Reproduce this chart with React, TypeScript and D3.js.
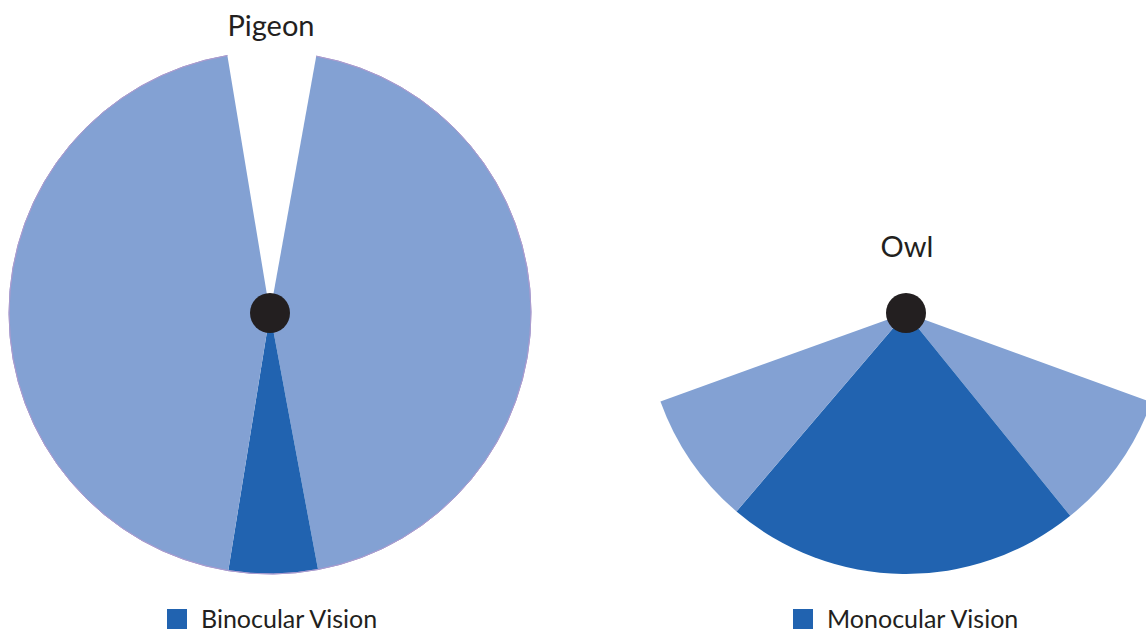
import React, { useEffect, useRef } from 'react';
import * as d3 from 'd3';

// angular extents, in degrees, clockwise from "up"
const pigeonParts = ['Blind', 'Monocular', 'Binocular', 'Monocular'];
const pigeonDegrees = [19.6, 159.2, 19.8, 161.4];
const owlParts = ['Monocular', 'Binocular', 'Monocular'];
const owlDegrees = [31, 79.5, 29.7];
const birds = ['Pigeon', 'Owl'];
const legendLabels = ['Binocular Vision', 'Monocular Vision'];

const W = 1146;
const H = 633;
const R = 261;
const LIGHT = '#83a1d3';
const DARK = '#2163b0';
const DOT = '#231f20';
const FONT = 'Lato, "Open Sans", sans-serif';

const rad = (deg: number) => (deg * Math.PI) / 180;

const colorFor = (part: string) =>
  part === 'Binocular' ? DARK : part === 'Monocular' ? LIGHT : 'none';

const drawBird = (
  g: d3.Selection<SVGGElement, unknown, null, undefined>,
  parts: string[],
  degrees: number[],
  startDeg: number,
  outline: boolean
) => {
  const total = d3.sum(degrees);
  const pie = d3
    .pie<number>()
    .sort(null)
    .value((d) => d)
    .startAngle(rad(startDeg))
    .endAngle(rad(startDeg + total));
  const arcs = pie(degrees);
  const arc = d3.arc<d3.PieArcDatum<number>>().innerRadius(0).outerRadius(R);

  g.selectAll('path.seg')
    .data(arcs)
    .join('path')
    .attr('class', 'seg')
    .attr('d', arc)
    .attr('fill', (d, i) => colorFor(parts[i]));

  if (outline) {
    // thin lilac rim along the outer edge only
    const rim = d3.arc<d3.PieArcDatum<number>>().innerRadius(R).outerRadius(R);
    g.selectAll('path.rim')
      .data(arcs.filter((d, i) => parts[i] !== 'Blind'))
      .join('path')
      .attr('class', 'rim')
      .attr('d', rim)
      .attr('fill', 'none')
      .attr('stroke', '#a99ccf')
      .attr('stroke-width', 1);
  }

  g.append('circle').attr('r', 20).attr('fill', DOT);
};

export default function App() {
  const ref = useRef<SVGSVGElement>(null);

  useEffect(() => {
    const svg = d3.select(ref.current);
    svg.selectAll('*').remove();

    const pigeon = svg.append('g').attr('transform', 'translate(270,313)');
    drawBird(pigeon, pigeonParts, pigeonDegrees, -9.4, true);

    const owl = svg.append('g').attr('transform', 'translate(906,313)');
    drawBird(owl, owlParts, owlDegrees, 110, false);

    const titles = [
      { x: 271, y: 36 },
      { x: 907, y: 257 },
    ];
    svg
      .selectAll('text.title')
      .data(birds)
      .join('text')
      .attr('class', 'title')
      .attr('x', (d, i) => titles[i].x)
      .attr('y', (d, i) => titles[i].y)
      .attr('text-anchor', 'middle')
      .attr('font-family', FONT)
      .attr('font-size', 29)
      .attr('fill', '#231f20')
      .text((d) => d);

    const legendX = [167, 793];
    const lg = svg
      .selectAll('g.legend')
      .data(legendLabels)
      .join('g')
      .attr('class', 'legend')
      .attr('transform', (d, i) => `translate(${legendX[i]},609)`);
    lg.append('rect').attr('width', 20).attr('height', 20).attr('fill', DARK);
    lg.append('text')
      .attr('x', 34)
      .attr('y', 19)
      .attr('font-family', FONT)
      .attr('font-size', 25)
      .attr('fill', '#231f20')
      .text((d) => d);
  }, []);

  return (
    <svg
      ref={ref}
      width={W}
      height={H}
      style={{ position: 'absolute', left: 0, top: 0, background: '#fff' }}
    />
  );
}
